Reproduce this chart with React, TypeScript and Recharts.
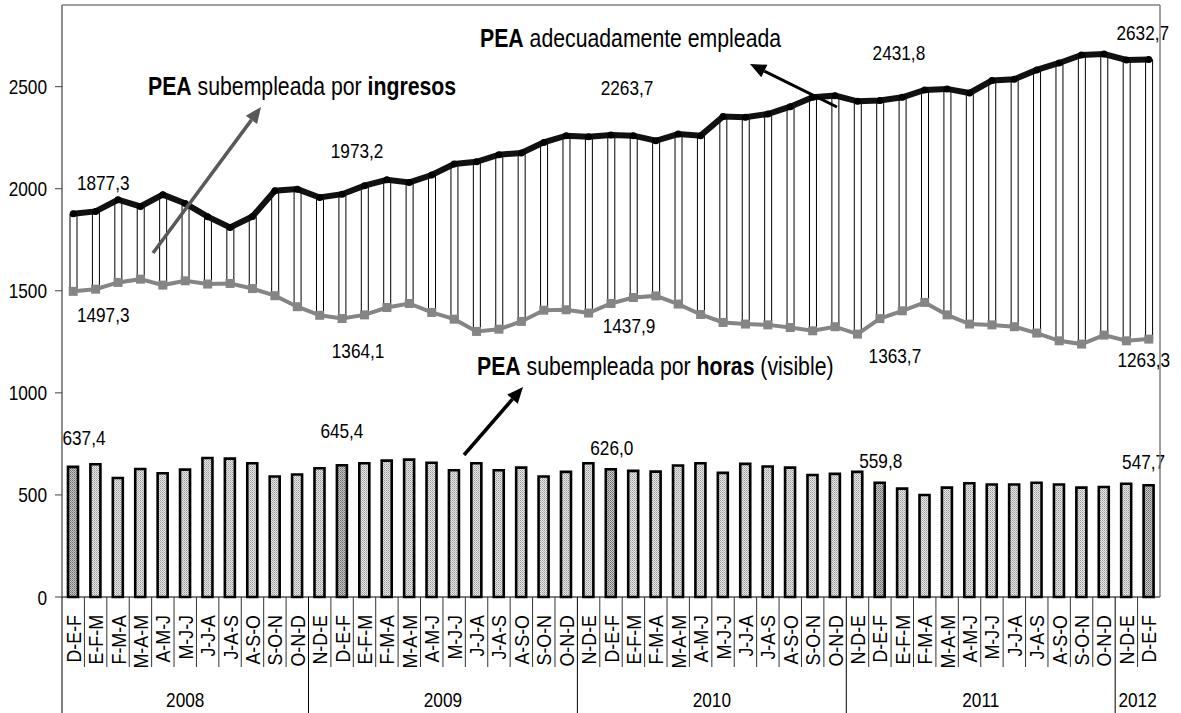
import React from 'react'
import { ComposedChart, Bar, Line, XAxis, YAxis, LabelList, Cell } from 'recharts'

// trimestres móviles, 2008 - 2012
const categories = [
  'D-E-F', 'E-F-M', 'F-M-A', 'M-A-M', 'A-M-J', 'M-J-J', 'J-J-A', 'J-A-S', 'A-S-O', 'S-O-N', 'O-N-D',
  'N-D-E', 'D-E-F', 'E-F-M', 'F-M-A', 'M-A-M', 'A-M-J', 'M-J-J', 'J-J-A', 'J-A-S', 'A-S-O', 'S-O-N', 'O-N-D',
  'N-D-E', 'D-E-F', 'E-F-M', 'F-M-A', 'M-A-M', 'A-M-J', 'M-J-J', 'J-J-A', 'J-A-S', 'A-S-O', 'S-O-N', 'O-N-D',
  'N-D-E', 'D-E-F', 'E-F-M', 'F-M-A', 'M-A-M', 'A-M-J', 'M-J-J', 'J-J-A', 'J-A-S', 'A-S-O', 'S-O-N', 'O-N-D',
  'N-D-E', 'D-E-F',
]

const years = ['2008', '2009', '2010', '2011', '2012']
const yearSizes = [11, 12, 12, 12, 2]

// PEA adecuadamente empleada
const adecuada = [
  1877.3, 1889, 1946, 1913, 1971, 1928, 1863, 1810, 1864, 1990, 1998,
  1957, 1973.2, 2015, 2044, 2031, 2067, 2121, 2132, 2167, 2175, 2227, 2260,
  2255, 2263.7, 2260, 2235, 2268, 2260, 2354, 2350, 2366, 2402, 2448, 2456,
  2428, 2431.8, 2448, 2484, 2489, 2469, 2530, 2536, 2582, 2616, 2655, 2660,
  2631, 2632.7,
]

// PEA subempleada por ingresos
const ingresos = [
  1497.3, 1508, 1541, 1557, 1528, 1549, 1533, 1536, 1511, 1476, 1422,
  1380, 1364.1, 1382, 1418, 1438, 1394, 1361, 1301, 1312, 1350, 1405, 1407,
  1391, 1437.9, 1467, 1475, 1435, 1384, 1345, 1337, 1333, 1320, 1304, 1324,
  1288, 1363.7, 1402, 1443, 1382, 1337, 1333, 1324, 1293, 1255, 1239, 1283,
  1255, 1263.3,
]

// PEA subempleada por horas (visible)
const horas = [
  637.4, 650, 583, 627, 606, 624, 681, 678, 655, 590, 600,
  631, 645.4, 655, 668, 673, 658, 621, 655, 621, 634, 590, 613,
  655, 626.0, 618, 614, 644, 655, 608, 652, 639, 634, 598, 603,
  613, 559.8, 531, 500, 536, 557, 551, 551, 560, 551, 536, 539,
  555, 547.7,
]

const yTicks = [0, 500, 1000, 1500, 2000, 2500]
const labeled = [0, 12, 24, 36, 48]

const W = 1181
const H = 713
const PLOT_L = 62
const PLOT_R = 1160
const PLOT_T = 5
const PLOT_B = 597
const BAND = (PLOT_R - PLOT_L) / categories.length
const FONT = "'Liberation Sans', Arial, sans-serif"

const yearStarts = yearSizes.map((_, i) => yearSizes.slice(0, i).reduce((a, b) => a + b, 0))

const rows = categories.map((cat, i) => ({
  cat,
  adec: adecuada[i],
  ingr: ingresos[i],
  horas: horas[i],
}))

// label offsets (dx, dy to baseline) for the labelled points
const upperOff: Record<number, [number, number]> = { 0: [30, -24], 12: [15, -36], 24: [16, -40], 36: [19, -41], 48: [-6, -20] }
const lowerOff: Record<number, [number, number]> = { 0: [30, 31], 12: [16, 39], 24: [18, 30], 36: [15, 44], 48: [-5, 28] }
const barOff: Record<number, [number, number]> = { 0: [11, -22], 12: [0, -27], 24: [1, -14], 36: [1, -15], 48: [-5, -16] }

const fmt = (v: number) => v.toFixed(1).replace('.', ',')

// Arial Narrow look-alike: horizontally squeezed Liberation Sans
function NText({ x, y, anchor = 'start', size = 21, sx = 0.82, rotate = 0, children }: any) {
  const rot = rotate ? ` rotate(${rotate})` : ''
  return (
    <text
      transform={`translate(${x} ${y})${rot} scale(${sx} 1)`}
      x={0}
      y={0}
      textAnchor={anchor}
      fontFamily={FONT}
      fontSize={size}
      fill="#000"
    >
      {children}
    </text>
  )
}

function pointLabel(off: Record<number, [number, number]>) {
  return (p: any) => {
    const i = p.index
    if (!labeled.includes(i)) return null
    const [dx, dy] = off[i]
    return (
      <NText x={p.x + dx} y={p.y + dy} anchor="middle">
        {fmt(Number(p.value))}
      </NText>
    )
  }
}

function barLabel(p: any) {
  const i = p.index
  if (!labeled.includes(i)) return null
  const [dx, dy] = barOff[i]
  return (
    <NText x={p.x + p.width / 2 + dx} y={p.y + dy} anchor="middle">
      {fmt(Number(p.value))}
    </NText>
  )
}

function SquareDot(p: any) {
  return <rect key={`sq-${p.index}`} x={p.cx - 4.5} y={p.cy - 4.5} width={9} height={9} fill="#858585" />
}

function YTick(p: any) {
  return (
    <NText x={p.x} y={p.y + 7.5} anchor="end">
      {p.payload.value}
    </NText>
  )
}

function CategoryTick(p: any) {
  const { x, payload } = p
  const i = payload.index
  const left = x - BAND / 2
  const yi = yearStarts.indexOf(i)
  const isYear = yi >= 0
  return (
    <g>
      <line x1={left} y1={PLOT_B} x2={left} y2={isYear ? H : PLOT_B + 70} stroke={isYear ? '#000' : '#333'} strokeWidth={1} />
      <NText x={x + 7.5} y={PLOT_B + 18} rotate={-90} anchor="end" sx={0.85}>
        {payload.value}
      </NText>
      {isYear && (
        <NText x={left + (yearSizes[yi] * BAND) / 2} y={707} anchor="middle">
          {years[yi]}
        </NText>
      )}
    </g>
  )
}

function Arrow({ x1, y1, x2, y2, color, w }: any) {
  const ang = Math.atan2(y2 - y1, x2 - x1)
  const len = 16
  const half = 7
  const bx = x2 - len * Math.cos(ang)
  const by = y2 - len * Math.sin(ang)
  const px = -Math.sin(ang) * half
  const py = Math.cos(ang) * half
  return (
    <g>
      <line x1={x1} y1={y1} x2={bx} y2={by} stroke={color} strokeWidth={w} />
      <polygon points={`${x2},${y2} ${bx + px},${by + py} ${bx - px},${by - py}`} fill={color} />
    </g>
  )
}

export default function App() {
  return (
    <div style={{ position: 'absolute', left: 0, top: 0, width: W, height: H, background: '#fff' }}>
      <ComposedChart
        width={W}
        height={H}
        data={rows}
        margin={{ top: PLOT_T, right: W - PLOT_R, bottom: 0, left: 0 }}
      >
        <defs>
          <pattern id="dotsLight" width="2" height="2" patternUnits="userSpaceOnUse">
            <rect width="2" height="2" fill="#e8e8e8" />
            <rect width="1" height="1" fill="#9a9a9a" />
            <rect x="1" y="1" width="1" height="1" fill="#b8b8b8" />
          </pattern>
          <pattern id="dotsDark" width="2" height="2" patternUnits="userSpaceOnUse">
            <rect width="2" height="2" fill="#c8c8c8" />
            <rect width="1" height="1" fill="#6a6a6a" />
            <rect x="1" y="1" width="1" height="1" fill="#8a8a8a" />
          </pattern>
        </defs>
        <XAxis
          dataKey="cat"
          height={H - PLOT_B}
          interval={0}
          tickLine={false}
          axisLine={{ stroke: '#000', strokeWidth: 1 }}
          tick={<CategoryTick />}
        />
        <XAxis xAxisId="hl" dataKey="cat" hide />
        <YAxis
          width={PLOT_L}
          domain={[0, 2900]}
          ticks={yTicks}
          tickSize={7}
          tickMargin={8}
          axisLine={{ stroke: '#404040', strokeWidth: 1.2 }}
          tickLine={{ stroke: '#404040' }}
          tick={<YTick />}
        />
        <Bar dataKey="horas" barSize={10} stroke="#000" strokeWidth={2.6} isAnimationActive={false}>
          {rows.map((r, i) => (
            <Cell key={`c-${i}`} fill={r.cat === 'D-E-F' ? 'url(#dotsDark)' : 'url(#dotsLight)'} />
          ))}
          <LabelList dataKey="horas" content={barLabel} />
        </Bar>
        <Bar
          xAxisId="hl"
          dataKey={(d: any) => [d.ingr, d.adec]}
          barSize={7}
          fill="#fff"
          stroke="#000"
          strokeWidth={1}
          isAnimationActive={false}
        />
        <Line
          dataKey="ingr"
          stroke="#858585"
          strokeWidth={4}
          dot={<SquareDot />}
          isAnimationActive={false}
        >
          <LabelList dataKey="ingr" content={pointLabel(lowerOff)} />
        </Line>
        <Line
          dataKey="adec"
          stroke="#111"
          strokeWidth={6}
          dot={{ r: 3.5, fill: '#000', stroke: '#000', strokeWidth: 0 }}
          isAnimationActive={false}
        >
          <LabelList dataKey="adec" content={pointLabel(upperOff)} />
        </Line>
      </ComposedChart>
      <svg width={W} height={H} style={{ position: 'absolute', left: 0, top: 0, pointerEvents: 'none' }}>
        <line x1={PLOT_L} y1={PLOT_T} x2={PLOT_R} y2={PLOT_T} stroke="#808080" strokeWidth={1.5} />
        <line x1={PLOT_R} y1={PLOT_T} x2={PLOT_R} y2={PLOT_B} stroke="#808080" strokeWidth={1.5} />
        <Arrow x1={153} y1={253} x2={261} y2={107} color="#595959" w={3.5} />
        <Arrow x1={837} y1={107} x2={750} y2={64} color="#000" w={3} />
        <Arrow x1={464} y1={455} x2={523} y2={387} color="#000" w={3.5} />
        <NText x={148} y={95} size={25} sx={0.85}>
          <tspan fontWeight="bold">PEA</tspan> subempleada por <tspan fontWeight="bold">ingresos</tspan>
        </NText>
        <NText x={480} y={47} size={25} sx={0.85}>
          <tspan fontWeight="bold">PEA</tspan> adecuadamente empleada
        </NText>
        <NText x={477} y={375} size={25} sx={0.85}>
          <tspan fontWeight="bold">PEA</tspan> subempleada por <tspan fontWeight="bold">horas</tspan> (visible)
        </NText>
      </svg>
    </div>
  )
}
